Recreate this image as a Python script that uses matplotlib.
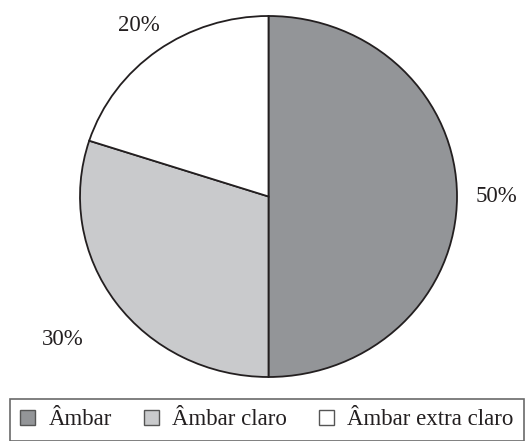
import matplotlib
matplotlib.use("Agg")
import numpy as np
import matplotlib.pyplot as plt
from matplotlib.patches import Patch

# data
labels = ["Âmbar", "Âmbar claro", "Âmbar extra claro"]
values = [50, 30, 20]
colors = ["#939598", "#c9cacc", "#ffffff"]

plt.rcParams["font.family"] = ["Liberation Serif", "DejaVu Serif"]

W, H = 526, 441
fig = plt.figure(figsize=(W / 100, H / 100), dpi=100)

# pie is slightly wider than tall in the reference
ax = fig.add_axes([80 / W, 64 / H, 377 / W, 361 / H])
wedges, _ = ax.pie(values, colors=colors, startangle=90, counterclock=False,
                   wedgeprops=dict(edgecolor="#231f20", linewidth=1.3))
ax.set_aspect("auto")
ax.set_xlim(-1, 1)
ax.set_ylim(-1, 1)

# percentage labels placed outside each slice
label_dist = [1.21, 1.35, 1.17]
total = sum(values)
start = 90
for v, d in zip(values, label_dist):
    mid = np.deg2rad(start - v / total * 180)
    ax.text(d * np.cos(mid), d * np.sin(mid), f"{v}%", ha="center", va="center",
            fontsize=16.5, color="#231f20")
    start -= v / total * 360

handles = [Patch(facecolor=c, edgecolor="#555555", linewidth=1.0) for c in colors]
leg = fig.legend(handles, labels, loc="upper left",
                 bbox_to_anchor=(10 / W, 0, 514 / W, 1 - 399 / H),
                 mode="expand", ncol=3, fontsize=16.5, frameon=True, fancybox=False,
                 edgecolor="#444444", handlelength=0.65, handleheight=0.65,
                 handletextpad=0.6, borderaxespad=0, borderpad=0.45,
                 columnspacing=1.0)
for t in leg.get_texts():
    t.set_color("#231f20")
leg.get_frame().set_linewidth(1.2)

fig.savefig("out.png", dpi=100)
